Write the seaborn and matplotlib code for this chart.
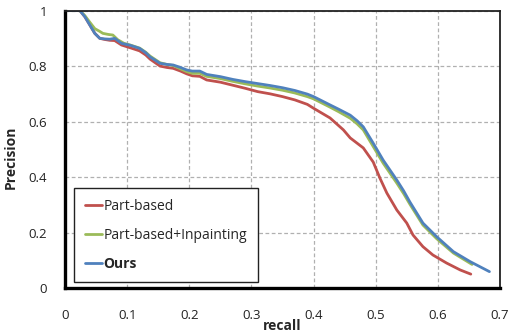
import matplotlib
matplotlib.use("Agg")
import matplotlib.pyplot as plt
import seaborn as sns
import pandas as pd

# ---- data ----
ours_x = [0, 0.024, 0.032, 0.04, 0.048, 0.056, 0.064, 0.072, 0.08, 0.091, 0.105, 0.12, 0.13, 0.137,
          0.153, 0.164, 0.174, 0.186, 0.196, 0.205, 0.217, 0.228, 0.25, 0.27, 0.29, 0.31, 0.33,
          0.35, 0.37, 0.39, 0.40, 0.4265, 0.44, 0.459, 0.47, 0.48, 0.496, 0.512, 0.523, 0.534,
          0.545, 0.555, 0.576, 0.598, 0.625, 0.652, 0.683]
ours_y = [1, 1, 0.978, 0.948, 0.918, 0.90, 0.898, 0.897, 0.90, 0.882, 0.875, 0.864, 0.848, 0.833,
          0.81, 0.806, 0.804, 0.795, 0.786, 0.782, 0.782, 0.77, 0.762, 0.752, 0.744, 0.737, 0.73,
          0.722, 0.712, 0.699, 0.69, 0.66, 0.645, 0.623, 0.603, 0.581, 0.522, 0.461, 0.425, 0.389,
          0.35, 0.31, 0.234, 0.185, 0.131, 0.095, 0.059]

inp_x = [0, 0.024, 0.032, 0.04, 0.048, 0.056, 0.061, 0.07, 0.077, 0.085, 0.095, 0.105, 0.12, 0.13,
         0.137, 0.153, 0.164, 0.174, 0.186, 0.196, 0.205, 0.217, 0.228, 0.25, 0.27, 0.29, 0.31,
         0.33, 0.35, 0.37, 0.39, 0.40, 0.4265, 0.44, 0.459, 0.47, 0.48, 0.496, 0.512, 0.523,
         0.534, 0.545, 0.555, 0.576, 0.598, 0.625, 0.655]
inp_y = [1, 1, 0.982, 0.958, 0.935, 0.925, 0.918, 0.914, 0.912, 0.895, 0.882, 0.876, 0.865, 0.85,
         0.836, 0.812, 0.806, 0.802, 0.79, 0.78, 0.774, 0.774, 0.763, 0.755, 0.745, 0.736, 0.728,
         0.721, 0.713, 0.703, 0.69, 0.682, 0.652, 0.636, 0.612, 0.592, 0.57, 0.51, 0.45, 0.414,
         0.378, 0.34, 0.302, 0.227, 0.178, 0.126, 0.085]

part_x = [0, 0.024, 0.032, 0.04, 0.048, 0.056, 0.064, 0.072, 0.08, 0.091, 0.105, 0.12, 0.13, 0.137,
          0.153, 0.164, 0.174, 0.186, 0.196, 0.205, 0.217, 0.228, 0.25, 0.27, 0.29, 0.31, 0.33,
          0.35, 0.37, 0.39, 0.40, 0.4265, 0.448, 0.459, 0.48, 0.496, 0.507, 0.518, 0.534, 0.55,
          0.56, 0.576, 0.592, 0.614, 0.636, 0.653]
part_y = [1, 1, 0.978, 0.948, 0.918, 0.90, 0.896, 0.893, 0.892, 0.876, 0.866, 0.855, 0.84, 0.825,
          0.8, 0.795, 0.792, 0.782, 0.772, 0.765, 0.763, 0.75, 0.742, 0.731, 0.72, 0.708, 0.70,
          0.69, 0.678, 0.662, 0.648, 0.613, 0.57, 0.541, 0.505, 0.454, 0.395, 0.342, 0.281, 0.234,
          0.191, 0.149, 0.119, 0.09, 0.065, 0.05]

labels = ["Part-based", "Part-based+Inpainting", "Ours"]
colors = ["#C0504D", "#9BBB59", "#4F81BD"]
x_ticks = [0, 0.1, 0.2, 0.3, 0.4, 0.5, 0.6, 0.7]
x_tick_labels = ["0", "0.1", "0.2", "0.3", "0.4", "0.5", "0.6", "0.7"]
y_ticks = [0, 0.2, 0.4, 0.6, 0.8, 1.0]
y_tick_labels = ["0", "0.2", "0.4", "0.6", "0.8", "1"]

frames = []
for lab, xs, ys in zip(labels, [part_x, inp_x, ours_x], [part_y, inp_y, ours_y]):
    frames.append(pd.DataFrame({"recall": xs, "precision": ys, "method": lab}))
df = pd.concat(frames, ignore_index=True)

sns.set_style("white")
plt.rcParams["font.family"] = ["Open Sans", "DejaVu Sans"]

fig = plt.figure(figsize=(5.19, 3.35), dpi=100)
ax = fig.add_axes([0.1252, 0.1403, 0.8382, 0.828])

sns.lineplot(data=df, x="recall", y="precision", hue="method", hue_order=labels,
             palette=colors, sort=False, estimator=None, linewidth=2.0, ax=ax, legend=False)

ax.set_xlim(0, 0.7)
ax.set_ylim(0, 1)
ax.set_xticks(x_ticks)
ax.set_xticklabels(x_tick_labels)
ax.set_yticks(y_ticks)
ax.set_yticklabels(y_tick_labels)
ax.tick_params(axis="both", direction="out", length=5, width=1.2, labelsize=9.5,
               colors="#222222", pad=8)
ax.tick_params(axis="x", pad=10)
ax.grid(True, color="#b0b0b0", linestyle=(0, (3, 2)), linewidth=0.9)

for s in ["left", "bottom"]:
    ax.spines[s].set_linewidth(2.4)
    ax.spines[s].set_color("black")
for s in ["top", "right"]:
    ax.spines[s].set_linewidth(1.3)
    ax.spines[s].set_color("#222222")

ax.set_xlabel("recall", fontweight="bold", fontsize=10, labelpad=-2)
ax.set_ylabel("Precision", fontweight="bold", fontsize=10, labelpad=3)
ax.yaxis.set_label_coords(-0.108, 0.47)

handles = [plt.Line2D([], [], color=c, linewidth=2.0) for c in colors]
leg = ax.legend(handles, labels, loc="upper left", bbox_to_anchor=(0.021, 0.36),
                frameon=True, fancybox=False, edgecolor="#222222", framealpha=1,
                fontsize=10, handlelength=1.2, handletextpad=0.1, labelspacing=1.0,
                borderpad=0.8, borderaxespad=0)
leg.get_frame().set_linewidth(1.0)
leg.get_texts()[2].set_fontweight("bold")

fig.savefig("out.png", dpi=100)
